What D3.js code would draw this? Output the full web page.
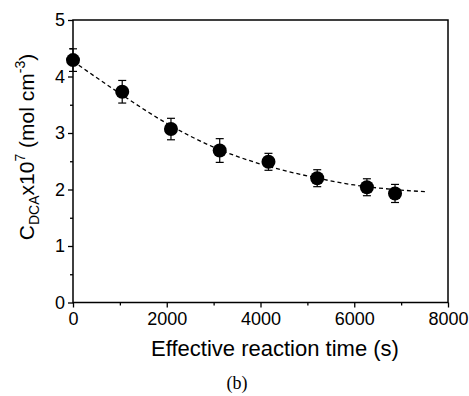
<!DOCTYPE html>
<html>
<head>
<meta charset="utf-8">
<script src="https://cdn.jsdelivr.net/npm/d3@7"></script>
<style>
  html, body { margin: 0; padding: 0; background: #fff; }
  svg { display: block; font-family: "Liberation Sans", Arial, sans-serif; }
</style>
</head>
<body>
<script>
// measured points (time in s, concentration x1e7, error bar half-width)
const times = [0, 1050, 2090, 3130, 4170, 5210, 6270, 6870];
const conc = [4.29, 3.73, 3.07, 2.69, 2.49, 2.20, 2.04, 1.93];
const errs = [0.20, 0.20, 0.19, 0.21, 0.15, 0.15, 0.15, 0.16];

// fitted curve
const fitTimes = [0, 1000, 2000, 3000, 4000, 5000, 6000, 7000, 7550];
const fitConc = [4.27, 3.70, 3.17, 2.75, 2.45, 2.24, 2.08, 1.99, 1.96];

const xTicks = [0, 2000, 4000, 6000, 8000];
const yTicks = [0, 1, 2, 3, 4, 5];

const width = 469, height = 396;
const margin = {left: 73, right: 21, top: 20, bottom: 93.5};

const svg = d3.select('body').append('svg')
    .attr('width', width)
    .attr('height', height);

const x = d3.scaleLinear().domain([0, 8000]).range([margin.left, width - margin.right]);
const y = d3.scaleLinear().domain([0, 5]).range([height - margin.bottom, margin.top]);

// frame
svg.append('rect')
    .attr('x', x(0)).attr('y', y(5))
    .attr('width', x(8000) - x(0)).attr('height', y(0) - y(5))
    .attr('fill', 'none').attr('stroke', '#000').attr('stroke-width', 1.5);

// minor ticks
svg.append('g')
    .attr('transform', `translate(0,${y(0)})`)
    .call(d3.axisBottom(x).tickValues(d3.range(1000, 8000, 2000)).tickSize(3).tickFormat(''))
    .call(g => g.select('.domain').remove())
    .selectAll('line').attr('stroke-width', 1.3);
svg.append('g')
    .attr('transform', `translate(${x(0)},0)`)
    .call(d3.axisLeft(y).tickValues(d3.range(0.5, 5, 1)).tickSize(3).tickFormat(''))
    .call(g => g.select('.domain').remove())
    .selectAll('line').attr('stroke-width', 1.3);

// major ticks + labels
const xAxis = svg.append('g')
    .attr('transform', `translate(0,${y(0)})`)
    .call(d3.axisBottom(x).tickValues(xTicks).tickSize(5).tickPadding(5).tickFormat(d3.format('d')));
xAxis.select('.domain').remove();
xAxis.selectAll('line').attr('stroke-width', 1.3);
xAxis.selectAll('text').attr('font-size', 18).attr('fill', '#000')
    .attr('font-family', '"Liberation Sans", Arial, sans-serif');

const yAxis = svg.append('g')
    .attr('transform', `translate(${x(0)},0)`)
    .call(d3.axisLeft(y).tickValues(yTicks).tickSize(5).tickPadding(3).tickFormat(d3.format('d')));
yAxis.select('.domain').remove();
yAxis.selectAll('line').attr('stroke-width', 1.3);
yAxis.selectAll('text').attr('font-size', 18).attr('fill', '#000')
    .attr('font-family', '"Liberation Sans", Arial, sans-serif');

// fitted dashed curve
const fit = fitTimes.map((t, i) => [t, fitConc[i]]);
svg.append('path')
    .datum(fit)
    .attr('d', d3.line().x(d => x(d[0])).y(d => y(d[1])).curve(d3.curveMonotoneX))
    .attr('fill', 'none')
    .attr('stroke', '#000')
    .attr('stroke-width', 1.3)
    .attr('stroke-dasharray', '4,3');

// error bars
const pts = times.map((t, i) => ({t, c: conc[i], e: errs[i]}));
const eb = svg.append('g').attr('stroke', '#000').attr('stroke-width', 1.2);
pts.forEach(d => {
  eb.append('line').attr('x1', x(d.t)).attr('x2', x(d.t)).attr('y1', y(d.c - d.e)).attr('y2', y(d.c + d.e));
  eb.append('line').attr('x1', x(d.t) - 4).attr('x2', x(d.t) + 4).attr('y1', y(d.c + d.e)).attr('y2', y(d.c + d.e));
  eb.append('line').attr('x1', x(d.t) - 4).attr('x2', x(d.t) + 4).attr('y1', y(d.c - d.e)).attr('y2', y(d.c - d.e));
});

// markers
svg.append('g').selectAll('circle')
    .data(pts).enter().append('circle')
    .attr('cx', d => x(d.t))
    .attr('cy', d => y(d.c))
    .attr('r', 7)
    .attr('fill', '#000');

// x title
svg.append('text')
    .attr('x', 275).attr('y', 356)
    .attr('text-anchor', 'middle')
    .attr('font-size', 22)
    .text('Effective reaction time (s)');

// y title
const yt = svg.append('text')
    .attr('transform', 'translate(34,147) rotate(-90)')
    .attr('text-anchor', 'middle')
    .attr('font-size', 21);
yt.append('tspan').text('C');
yt.append('tspan').attr('font-size', 14).attr('dy', 5).text('DCA');
yt.append('tspan').attr('dy', -5).text('x10');
yt.append('tspan').attr('font-size', 14).attr('dy', -9).text('7');
yt.append('tspan').attr('dy', 9).text(' (mol cm');
yt.append('tspan').attr('font-size', 14).attr('dy', -9).text('-3');
yt.append('tspan').attr('dy', 9).text(')');

// caption
svg.append('text')
    .attr('x', 237).attr('y', 389)
    .attr('text-anchor', 'middle')
    .attr('font-family', '"Liberation Serif", "Times New Roman", serif')
    .attr('font-size', 18)
    .text('(b)');
</script>
</body>
</html>
